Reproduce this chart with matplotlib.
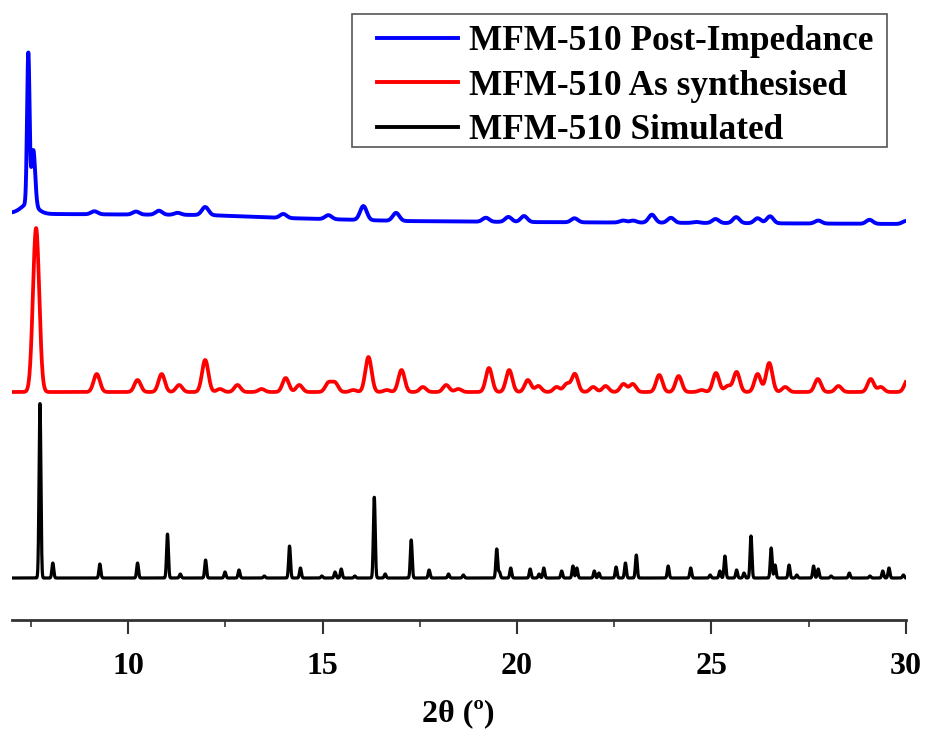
import numpy as np
import matplotlib
matplotlib.use("Agg")
import matplotlib.pyplot as plt
from matplotlib.patches import Rectangle

# ---------------- data ----------------
# Simulated pattern: peak positions (2theta, deg) and heights (a.u.)
sim_pos = [7.73, 8.06, 9.27, 10.24, 11.01, 11.34, 11.99, 12.49, 12.85, 13.50,
           14.15, 14.43, 14.98, 15.32, 15.48, 15.83, 16.33, 16.61, 17.28, 17.74,
           18.24, 18.62, 19.48, 19.55, 19.84, 20.34, 20.57, 20.69, 21.15, 21.44,
           21.54, 21.99, 22.11, 22.55, 22.79, 23.07, 23.89, 24.47, 24.97, 25.22,
           25.35, 25.65, 25.84, 26.02, 26.54, 26.64, 27.00, 27.20, 27.63, 27.75,
           28.08, 28.55, 29.08, 29.41, 29.57, 29.94]
sim_h = [175, 15, 14, 15, 44, 4, 18, 6, 8, 2,
         32, 10, 2, 6, 9, 2, 81, 4, 38, 8,
         4, 3, 29, 6, 10, 9, 4, 10, 7, 12,
         10, 7, 5, 11, 15, 23, 12, 10, 3, 7,
         22, 8, 5, 42, 30, 13, 13, 3, 12, 9,
         2, 5, 2, 7, 10, 3]

# As-synthesised pattern
syn_pos = [7.63, 9.19, 10.24, 10.86, 11.31, 11.98, 12.36, 12.81, 13.43, 14.05,
           14.40, 15.15, 15.32, 15.79, 16.18, 16.65, 17.03, 17.58, 18.18, 18.49,
           19.28, 19.80, 20.28, 20.55, 21.02, 21.28, 21.49, 21.96, 22.28, 22.74,
           22.98, 23.66, 24.16, 24.75, 25.12, 25.42, 25.65, 26.19, 26.49, 26.90,
           27.74, 28.27, 29.10, 29.36, 30.05]
syn_h = [164, 18, 12, 18, 7, 32, 3, 7, 3, 14,
         7, 9, 9, 2, 35, 2, 22, 5, 7, 3,
         24, 22, 12, 6, 5, 8, 18, 5, 6, 8,
         8, 17, 16, 2, 19, 6, 20, 18, 29, 5,
         13, 6, 13, 5, 12]

# Post-impedance pattern
post_pos = [7.45, 7.43, 7.56, 9.13, 10.20, 10.79, 11.27, 11.98, 13.99, 15.15,
            16.05, 16.89, 19.20, 19.78, 20.18, 21.48, 22.73, 22.99, 23.47, 23.96,
            24.61, 25.11, 25.64, 26.19, 26.51, 27.75, 29.07, 30.00]
post_h = [10, 150, 55, 3, 3, 4, 2, 8, 4, 4,
          14, 8, 4, 5, 6, 4, 2, 2, 8, 5,
          1, 4, 6, 5, 7, 3, 4, 3]
# Post-impedance baseline (2theta, a.u.)
post_bg_x = [7.0, 8.0, 12.0, 14.0, 17.0, 20.0, 25.0, 30.0]
post_bg_y = [407, 406, 405, 402, 399, 398, 397, 396]

# Peak widths (FWHM, deg) per pattern
sim_fwhm = 0.055
syn_fwhm = 0.19
post_fwhm = [0.45, 0.075, 0.11] + [0.2] * 25

# Vertical offsets for stacking
sim_offset = 42
syn_offset = 228

labels = ["MFM-510 Post-Impedance", "MFM-510 As synthesised", "MFM-510 Simulated"]
colors = ["#0000ff", "#ff0000", "#000000"]
x_ticks = [10, 15, 20, 25, 30]

# ---------------- build profiles ----------------
tt = np.arange(7.0, 30.0001, 0.004)


def profile(pos, h, fwhm):
    fw = np.broadcast_to(np.asarray(fwhm, dtype=float), (len(pos),))
    y = np.zeros_like(tt)
    for p, a, w in zip(pos, h, fw):
        s = w / 2.3548
        y += a * np.exp(-0.5 * ((tt - p) / s) ** 2)
    return y


y_sim = profile(sim_pos, sim_h, sim_fwhm) + sim_offset
y_syn = profile(syn_pos, syn_h, syn_fwhm) + syn_offset
y_post = profile(post_pos, post_h, post_fwhm) + np.interp(tt, post_bg_x, post_bg_y)

# ---------------- draw ----------------
plt.rcParams['font.family'] = ['Liberation Serif', 'DejaVu Serif']
plt.rcParams['font.weight'] = 'bold'

W, H = 927, 731
fig = plt.figure(figsize=(W / 100, H / 100), dpi=100)
ax = fig.add_axes([11.6 / W, 111 / H, (905.7 - 11.6) / W, 610 / H])

ax.plot(tt, y_post, color=colors[0], lw=2.8, label=labels[0])
ax.plot(tt, y_syn, color=colors[1], lw=2.7, label=labels[1])
ax.plot(tt, y_sim, color=colors[2], lw=2.3, label=labels[2])

ax.set_xlim(7, 30)
ax.set_ylim(0, 610)
ax.set_yticks([])
for s in ["left", "right", "top"]:
    ax.spines[s].set_visible(False)
ax.spines["bottom"].set_linewidth(2.0)
ax.spines["bottom"].set_color("#333333")

ax.set_xticks(x_ticks)
ax.set_xticks(np.arange(7.5, 30, 2.5), minor=True)
ax.tick_params(axis="x", which="major", length=10, width=1.5, direction="out",
               labelsize=23, pad=13, color="#333333")
ax.tick_params(axis="x", which="minor", length=5, width=1.2, direction="out",
               color="#333333")
for lab in ax.get_xticklabels():
    lab.set_fontweight("bold")

ax.set_xlabel("2θ (º)", fontsize=23, fontweight="bold", labelpad=13)

# legend (frame drawn separately to match the asymmetric padding)
leg = ax.legend(loc="upper left", bbox_to_anchor=(377 / W, 1 - 25.5 / H),
                bbox_transform=fig.transFigure,
                prop={"weight": "bold", "size": 25.4}, frameon=False,
                handlelength=2.3, handletextpad=0.3, borderpad=0,
                labelspacing=0.32, borderaxespad=0)
for line in leg.get_lines():
    line.set_linewidth(2.8)
fig.patches.append(Rectangle((352 / W, 1 - 147.3 / H), (887.3 - 352) / W,
                             (147.3 - 14) / H, transform=fig.transFigure,
                             fill=False, edgecolor="#555555", linewidth=1.2))

fig.savefig("out.png", dpi=100)
